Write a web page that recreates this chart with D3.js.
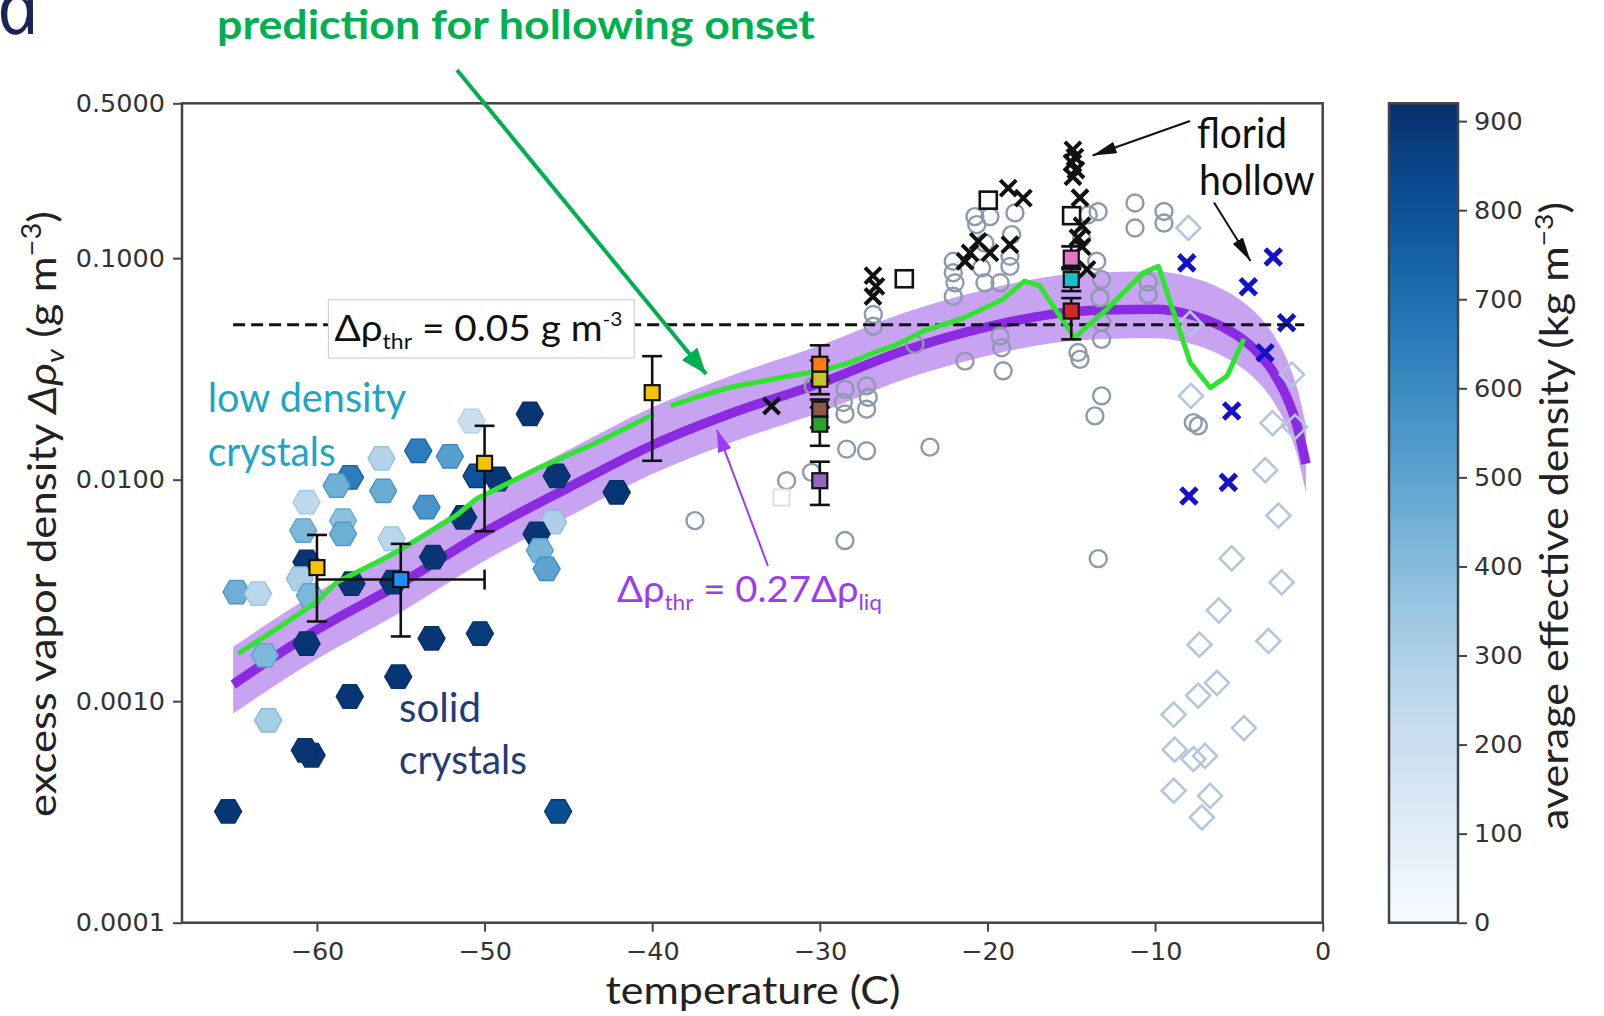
<!DOCTYPE html>
<html>
<head>
<meta charset="utf-8">
<script src="https://cdn.jsdelivr.net/npm/d3@7"></script>
<style>
  html, body { margin: 0; padding: 0; background: #fff; }
  svg { display: block; }
</style>
</head>
<body>
<svg id="chart" width="1604" height="1016"></svg>
<script>
// ---------- tick values ----------
const tempTicks = [-60, -50, -40, -30, -20, -10, 0];
const vaporTicks = [0.0001, 0.001, 0.01, 0.1, 0.5];
const densityTicks = [0, 100, 200, 300, 400, 500, 600, 700, 800, 900];

// ---------- threshold model: 0.27 x excess over liquid, with 0.2-0.4 band ----------
const bandTemp = [-65, -60, -55, -50, -45, -40, -35, -30, -25, -20, -15, -12.5, -10, -8, -6, -5, -4, -3, -2, -1.5, -1];
const bandMid  = [0.00119, 0.0021, 0.0034, 0.0058, 0.0092, 0.0143, 0.0203, 0.0272, 0.0382, 0.0490, 0.0572, 0.0585, 0.0588, 0.0558, 0.0490, 0.0442, 0.0383, 0.0310, 0.0222, 0.0172, 0.0118];
const bandHigh = [0.00176, 0.0031, 0.0050, 0.0086, 0.0136, 0.0212, 0.0300, 0.0403, 0.0565, 0.0725, 0.0847, 0.0866, 0.0870, 0.0826, 0.0725, 0.0654, 0.0567, 0.0459, 0.0329, 0.0255, 0.0175];
const bandLow  = [0.00088, 0.00155, 0.00252, 0.0043, 0.0068, 0.0106, 0.0150, 0.0201, 0.0283, 0.0363, 0.0423, 0.0433, 0.0435, 0.0413, 0.0363, 0.0327, 0.0283, 0.0229, 0.0164, 0.0127, 0.0087];

// ---------- hollowing-onset prediction (two pieces) ----------
const onsetTempA = [-64.7, -63.0, -61.2, -60.0, -58.8, -57.6, -56.0, -54.9, -53.3, -51.7, -50.5, -48.9, -46.9, -44.9, -43.7, -41.7, -39.9];
const onsetDvA   = [0.00164, 0.00198, 0.00244, 0.00281, 0.00345, 0.00383, 0.00440, 0.00488, 0.00579, 0.00688, 0.00818, 0.00939, 0.01117, 0.01303, 0.01422, 0.0169, 0.01976];
const onsetTempB = [-38.9, -37.4, -35.4, -33.4, -31.8, -30.0, -28.2, -26.8, -25.4, -23.8, -21.4, -19.1, -17.8, -16.9, -14.8, -12.9, -10.7, -9.8, -7.9, -6.7, -5.7, -4.7];
const onsetDvB   = [0.02153, 0.02349, 0.02606, 0.0279, 0.02937, 0.03097, 0.03375, 0.0374, 0.0408, 0.0469, 0.0538, 0.065, 0.0787, 0.0752, 0.0438, 0.0586, 0.0859, 0.0918, 0.0337, 0.026, 0.0294, 0.0433];

// constant threshold
const thrTemp = [-65, -1.1];
const thrValue = 0.05;

// ---------- columnar crystals, coloured by effective density ----------
const hexTemp = [-47.3, -50.78, -53.96, -56.15, -52.07, -58.03, -58.83, -56.05, -50.48, -49.19,
                 -45.7, -60.62, -53.46, -58.44, -51.28, -60.82, -58.44, -55.55, -45.91, -46.9,
                 -46.7, -46.3, -53.07, -60.62, -61.02, -60.42, -57.94, -55.45, -64.8, -63.51,
                 -60.62, -63.11, -53.16, -50.28, -55.15, -58.04, -62.91, -60.32, -60.72, -65.3,
                 -45.61, -42.12];
const hexDv   = [0.0198, 0.0184, 0.0135, 0.01247, 0.01274, 0.01025, 0.0094, 0.0089, 0.0104, 0.01007,
                 0.0104, 0.00791, 0.00751, 0.00653, 0.00676, 0.00589, 0.00569, 0.00541, 0.00643, 0.00569,
                 0.00479, 0.00396, 0.00447, 0.00425, 0.00357, 0.0030, 0.00339, 0.00345, 0.00311, 0.00306,
                 0.00182, 0.00161, 0.00192, 0.00202, 0.00129, 0.00105, 0.00082, 0.00057, 0.0006, 0.000318,
                 0.000318, 0.00877];
const hexDensity = [900, 200, 650, 280, 520, 650, 450, 470, 800, 900,
                    900, 250, 560, 380, 900, 420, 460, 260, 300, 900,
                    430, 500, 900, 900, 300, 420, 900, 900, 460, 260,
                    900, 420, 900, 880, 900, 900, 320, 900, 900, 900,
                    820, 900];

// ---------- open circles ----------
const circleTemp = [-37.45, -28.5, -31.98, -30.49, -28.5, -28.6, -28.5, -27.21, -27.11, -27.21,
                    -28.4, -27.21, -26.81, -26.81, -30.39, -24.33, -23.43, -22.04, -22.04, -21.94,
                    -22.04, -20.75, -20.64, -19.85, -18.36, -18.56, -20.15, -20.35, -20.15, -19.25,
                    -18.66, -18.66, -21.34, -19.25, -19.15, -19.06, -14.48, -13.59, -13.19, -13.19,
                    -13.29, -13.19, -13.48, -13.99, -11.2, -11.2, -9.47, -9.47, -10.41, -10.41,
                    -7.72, -7.42, -13.39, -14.38, -13.4, -13.19, -14.6];
const circleDv   = [0.00653, 0.00531, 0.00989, 0.01079, 0.0256, 0.0223, 0.0198, 0.0265, 0.0235, 0.0208,
                    0.01374, 0.0135, 0.0557, 0.0493, 0.0265, 0.0408, 0.01402, 0.0968, 0.0859, 0.0774,
                    0.0673, 0.154, 0.1416, 0.154, 0.160, 0.1277, 0.117, 0.0904, 0.0774, 0.0774,
                    0.0918, 0.102, 0.0343, 0.0445, 0.0394, 0.031, 0.0349, 0.0194, 0.0239, 0.043,
                    0.0662, 0.080, 0.0968, 0.157, 0.1774, 0.1368, 0.1625, 0.144, 0.078, 0.0685,
                    0.0181, 0.0175, 0.0044, 0.1233, 0.162, 0.0513, 0.0375];

// ---------- open diamonds ----------
const diamondTemp = [-8.01, -7.92, -7.86, -1.83, -2.99, -1.65, -3.43, -2.64, -5.43, -2.45,
                     -6.2, -3.24, -7.35, -6.31, -7.43, -8.89, -4.7, -8.83, -7.71, -7.02,
                     -8.89, -6.72, -7.21];
const diamondDv   = [0.137, 0.0507, 0.0239, 0.0298, 0.018, 0.0173, 0.01104, 0.00689, 0.00441, 0.00344,
                     0.00257, 0.00187, 0.0018, 0.00121, 0.00106, 0.00087, 0.000756, 0.000604, 0.000548, 0.000566,
                     0.000394, 0.000374, 0.000299];

// ---------- black crosses ----------
const crossTemp = [-26.83, -26.65, -26.83, -18.76, -17.86, -21.04, -20.55, -19.85, -21.34, -18.66,
                   -14.9, -14.78, -14.96, -14.72, -14.9, -14.48, -14.36, -14.6, -14.36, -14.06, -32.88];
const crossDv   = [0.0834, 0.0745, 0.0671, 0.207, 0.1867, 0.1057, 0.119, 0.1057, 0.0968, 0.115,
                   0.308, 0.286, 0.269, 0.25, 0.233, 0.1873, 0.14, 0.1236, 0.1127, 0.0889, 0.0215];

// ---------- blue crosses ----------
const blueCrossTemp = [-8.11, -2.95, -4.44, -2.15, -3.44, -5.43, -5.63, -7.98];
const blueCrossDv   = [0.0952, 0.1013, 0.0743, 0.0511, 0.0374, 0.0204, 0.00972, 0.00843];

// ---------- open squares ----------
const openSqTemp = [-24.96, -19.95, -14.98];
const openSqDv   = [0.0807, 0.1827, 0.1555];
const faintSqTemp = [-32.28];
const faintSqDv   = [0.0083];

// ---------- squares with error bars ----------
const errTemp = [-60, -55, -50, -40, -30, -30, -30, -30, -30, -15, -15, -15];
const errDv   = [0.00401, 0.00354, 0.01185, 0.0247, 0.0332, 0.0284, 0.0208, 0.0178, 0.00989, 0.100, 0.080, 0.0577];
const errLow  = [0.00229, 0.00196, 0.00585, 0.01217, 0.0280, 0.0243, 0.0172, 0.01422, 0.00769, 0.089, 0.071, 0.043];
const errHigh = [0.00563, 0.00513, 0.0175, 0.0361, 0.0404, 0.0345, 0.0230, 0.0212, 0.01205, 0.113, 0.091, 0.066];
const errTempLow  = [null, -60, null, null, null, null, null, null, null, null, null, null];
const errTempHigh = [null, -50, null, null, null, null, null, null, null, null, null, null];
const errFill = ["#f5c400", "#1e90ff", "#f5c400", "#f5c400", "#ff7f0e", "#c9c22a", "#8c564b", "#2ca02c", "#9467bd", "#e377c2", "#17becf", "#d62728"];

// =====================================================================
(function draw() {
const svg = d3.select("#chart");
svg.append("rect").attr("width", 1604).attr("height", 1016).attr("fill", "#fff");

const pLeft = 182, pRight = 1322.7, pTop = 103.3, pBottom = 922.7;
const x = d3.scaleLinear().domain([-68.05, 0]).range([pLeft, pRight]);
const y = d3.scaleLog().domain([0.0001, 0.5]).range([pBottom, pTop]);
const densityMax = 920;
const cbScale = d3.scaleLinear().domain([0, densityMax]).range([pBottom, pTop]);
const blues = d => d3.interpolateBlues(d / densityMax);

const defs = svg.append("defs");
defs.append("clipPath").attr("id", "plotClip")
  .append("rect").attr("x", pLeft).attr("y", pTop).attr("width", pRight - pLeft).attr("height", pBottom - pTop);

function arrowMarker(id, color, len, wid) {
  defs.append("marker").attr("id", id)
    .attr("markerUnits", "userSpaceOnUse")
    .attr("viewBox", `0 ${-wid / 2} ${len} ${wid}`)
    .attr("refX", len).attr("refY", 0)
    .attr("markerWidth", len).attr("markerHeight", wid)
    .attr("orient", "auto")
    .append("path").attr("d", `M0,${-wid / 2}L${len},0L0,${wid / 2}Z`).attr("fill", color);
}
arrowMarker("headGreen", "#00b050", 26, 20);
arrowMarker("headPurple", "#9a3cf0", 22, 14);
arrowMarker("headBlack", "#111", 24, 12);

const plot = svg.append("g").attr("clip-path", "url(#plotClip)");

// model band and its centre line
const bandIdx = d3.range(bandTemp.length);
plot.append("path").datum(bandIdx)
  .attr("d", d3.area().curve(d3.curveMonotoneX)
    .x(i => x(bandTemp[i])).y0(i => y(bandLow[i])).y1(i => y(bandHigh[i])))
  .attr("fill", "#9148e6").attr("fill-opacity", 0.5);
plot.append("path").datum(bandIdx)
  .attr("d", d3.line().curve(d3.curveMonotoneX).x(i => x(bandTemp[i])).y(i => y(bandMid[i])))
  .attr("fill", "none").attr("stroke", "#8a2be2").attr("stroke-width", 9.5);

// hexagons
const hexR = 13.5;
const hexPath = (() => {
  const p = d3.path();
  for (let k = 0; k < 6; k++) {
    const a = k * Math.PI / 3;
    if (k === 0) p.moveTo(hexR * Math.cos(a), hexR * Math.sin(a));
    else p.lineTo(hexR * Math.cos(a), hexR * Math.sin(a));
  }
  p.closePath();
  return p.toString();
})();
plot.append("g").selectAll("path").data(d3.range(hexTemp.length)).join("path")
  .attr("d", hexPath)
  .attr("transform", i => `translate(${x(hexTemp[i])},${y(hexDv[i])})`)
  .attr("fill", i => blues(hexDensity[i]))
  .attr("stroke", i => blues(Math.min(densityMax, hexDensity[i] + 90)))
  .attr("stroke-width", 1.4);

// open circles
plot.append("g").selectAll("circle").data(d3.range(circleTemp.length)).join("circle")
  .attr("cx", i => x(circleTemp[i])).attr("cy", i => y(circleDv[i])).attr("r", 8.5)
  .attr("fill", "none").attr("stroke", "#8c9aab").attr("stroke-width", 2.4);

// open diamonds
const dd = 12;
plot.append("g").selectAll("path").data(d3.range(diamondTemp.length)).join("path")
  .attr("d", `M0,${-dd}L${dd},0L0,${dd}L${-dd},0Z`)
  .attr("transform", i => `translate(${x(diamondTemp[i])},${y(diamondDv[i])})`)
  .attr("fill", "none").attr("stroke", "#b4c6dc").attr("stroke-width", 2.6);

// faint and black open squares
plot.append("g").selectAll("rect").data(d3.range(faintSqTemp.length)).join("rect")
  .attr("x", i => x(faintSqTemp[i]) - 8).attr("y", i => y(faintSqDv[i]) - 8)
  .attr("width", 16).attr("height", 16)
  .attr("fill", "#fff").attr("stroke", "#dedede").attr("stroke-width", 2);
plot.append("g").selectAll("rect").data(d3.range(openSqTemp.length)).join("rect")
  .attr("x", i => x(openSqTemp[i]) - 8.5).attr("y", i => y(openSqDv[i]) - 8.5)
  .attr("width", 17).attr("height", 17)
  .attr("fill", "#fff").attr("stroke", "#111").attr("stroke-width", 2.6);

// crosses
const crossPath = s => `M${-s},${-s}L${s},${s}M${-s},${s}L${s},${-s}`;
plot.append("g").selectAll("path").data(d3.range(crossTemp.length)).join("path")
  .attr("d", crossPath(8))
  .attr("transform", i => `translate(${x(crossTemp[i])},${y(crossDv[i])})`)
  .attr("stroke", "#111").attr("stroke-width", 4).attr("fill", "none");
plot.append("g").selectAll("path").data(d3.range(blueCrossTemp.length)).join("path")
  .attr("d", crossPath(8))
  .attr("transform", i => `translate(${x(blueCrossTemp[i])},${y(blueCrossDv[i])})`)
  .attr("stroke", "#1212c8").attr("stroke-width", 5).attr("fill", "none");

// constant threshold line
plot.append("line")
  .attr("x1", x(thrTemp[0])).attr("x2", x(thrTemp[1]))
  .attr("y1", y(thrValue)).attr("y2", y(thrValue))
  .attr("stroke", "#111").attr("stroke-width", 3).attr("stroke-dasharray", "12,6");

// onset prediction
const onsetLine = d3.line().x(d => x(d[0])).y(d => y(d[1]));
plot.append("path").datum(d3.zip(onsetTempA, onsetDvA)).attr("d", onsetLine)
  .attr("fill", "none").attr("stroke", "#2ee52e").attr("stroke-width", 5).attr("stroke-linejoin", "round");
plot.append("path").datum(d3.zip(onsetTempB, onsetDvB)).attr("d", onsetLine)
  .attr("fill", "none").attr("stroke", "#2ee52e").attr("stroke-width", 5).attr("stroke-linejoin", "round");

// error bars with filled squares
const eb = plot.append("g");
const capW = 10;
d3.range(errTemp.length).forEach(i => {
  const cx = x(errTemp[i]);
  const g = eb.append("g");
  g.append("line").attr("x1", cx).attr("x2", cx).attr("y1", y(errLow[i])).attr("y2", y(errHigh[i]))
    .attr("stroke", "#111").attr("stroke-width", 2.6);
  [errLow[i], errHigh[i]].forEach(v => {
    g.append("line").attr("x1", cx - capW).attr("x2", cx + capW).attr("y1", y(v)).attr("y2", y(v))
      .attr("stroke", "#111").attr("stroke-width", 2.6);
  });
  if (errTempLow[i] !== null) {
    const cy = y(errDv[i]);
    g.append("line").attr("x1", x(errTempLow[i])).attr("x2", x(errTempHigh[i])).attr("y1", cy).attr("y2", cy)
      .attr("stroke", "#111").attr("stroke-width", 2.6);
    [errTempLow[i], errTempHigh[i]].forEach(t => {
      g.append("line").attr("x1", x(t)).attr("x2", x(t)).attr("y1", cy - capW).attr("y2", cy + capW)
        .attr("stroke", "#111").attr("stroke-width", 2.6);
    });
  }
});
eb.selectAll("rect").data(d3.range(errTemp.length)).join("rect")
  .attr("x", i => x(errTemp[i]) - 7.5).attr("y", i => y(errDv[i]) - 7.5)
  .attr("width", 15).attr("height", 15)
  .attr("fill", i => errFill[i]).attr("stroke", "#111").attr("stroke-width", 2.2);

// ---------- axes ----------
const axisColor = "#444";
const tickFont = "'DejaVu Sans', sans-serif";
const yAxis = svg.append("g").attr("transform", `translate(${pLeft},0)`)
  .call(d3.axisLeft(y).tickValues(vaporTicks).tickFormat(d3.format(".4f")).tickSize(9).tickPadding(8));
const xAxis = svg.append("g").attr("transform", `translate(0,${pBottom})`)
  .call(d3.axisBottom(x).tickValues(tempTicks).tickFormat(d3.format("d")).tickSize(9).tickPadding(10));
[xAxis, yAxis].forEach(a => {
  a.select(".domain").remove();
  a.selectAll(".tick line").attr("stroke", axisColor).attr("stroke-width", 2);
  a.selectAll(".tick text").attr("fill", "#333").attr("font-family", tickFont).attr("font-size", 25.5);
});
svg.append("rect").attr("x", pLeft).attr("y", pTop).attr("width", pRight - pLeft).attr("height", pBottom - pTop)
  .attr("fill", "none").attr("stroke", axisColor).attr("stroke-width", 2.5);

// ---------- colour bar ----------
const cbX = 1389, cbW = 69;
const grad = defs.append("linearGradient").attr("id", "densityGrad")
  .attr("x1", 0).attr("y1", 1).attr("x2", 0).attr("y2", 0);
d3.range(0, 1.0001, 0.05).forEach(t => {
  grad.append("stop").attr("offset", t).attr("stop-color", d3.interpolateBlues(t));
});
svg.append("rect").attr("x", cbX).attr("y", pTop).attr("width", cbW).attr("height", pBottom - pTop)
  .attr("fill", "url(#densityGrad)").attr("stroke", axisColor).attr("stroke-width", 2.5);
const cbAxis = svg.append("g").attr("transform", `translate(${cbX + cbW},0)`)
  .call(d3.axisRight(cbScale).tickValues(densityTicks).tickFormat(d3.format("d")).tickSize(9).tickPadding(7));
cbAxis.select(".domain").remove();
cbAxis.selectAll(".tick line").attr("stroke", axisColor).attr("stroke-width", 2);
cbAxis.selectAll(".tick text").attr("fill", "#333").attr("font-family", tickFont).attr("font-size", 25.5);

// ---------- axis titles ----------
const labelFont = "Lato, 'Open Sans', sans-serif";
const yTitle = svg.append("text")
  .attr("transform", "translate(56,514) rotate(-90)")
  .attr("text-anchor", "middle").attr("font-family", labelFont).attr("font-size", 39).attr("fill", "#222")
  .attr("textLength", 606).attr("lengthAdjust", "spacingAndGlyphs");
yTitle.append("tspan").text("excess vapor density ");
yTitle.append("tspan").attr("font-style", "italic").text("Δρ");
yTitle.append("tspan").attr("font-style", "italic").attr("font-size", 26).attr("dy", 8).text("v");
yTitle.append("tspan").attr("dy", -8).text(" (g m");
yTitle.append("tspan").attr("font-size", 26).attr("dy", -15).text("−3");
yTitle.append("tspan").attr("dy", 15).text(")");

svg.append("text").attr("x", 753).attr("y", 1004)
  .attr("text-anchor", "middle").attr("font-family", labelFont).attr("font-size", 38).attr("fill", "#222")
  .attr("textLength", 295).attr("lengthAdjust", "spacingAndGlyphs")
  .text("temperature (C)");

const cbTitle = svg.append("text")
  .attr("transform", "translate(1568,516) rotate(-90)")
  .attr("text-anchor", "middle").attr("font-family", labelFont).attr("font-size", 38).attr("fill", "#222")
  .attr("textLength", 628).attr("lengthAdjust", "spacingAndGlyphs");
cbTitle.append("tspan").text("average effective density (kg m");
cbTitle.append("tspan").attr("font-size", 25).attr("dy", -15).text("−3");
cbTitle.append("tspan").attr("dy", 15).text(")");

// ---------- annotations ----------
// panel letter, set large in the top-left corner
svg.append("text").attr("transform", "translate(1,34) skewX(12)")
  .attr("font-family", "'Open Sans', sans-serif").attr("font-style", "italic")
  .attr("font-size", 74).attr("fill", "#1c2454").text("a");

svg.append("text").attr("x", 217).attr("y", 39)
  .attr("font-family", labelFont).attr("font-weight", 700).attr("font-size", 41).attr("fill", "#00b050")
  .attr("textLength", 598).attr("lengthAdjust", "spacingAndGlyphs")
  .text("prediction for hollowing onset");

svg.append("line").attr("x1", 457).attr("y1", 70).attr("x2", 706).attr("y2", 374)
  .attr("stroke", "#00b050").attr("stroke-width", 4).attr("marker-end", "url(#headGreen)");

// threshold label box
svg.append("rect").attr("x", 328.4).attr("y", 299.7).attr("width", 306).attr("height", 58.3)
  .attr("fill", "#fff").attr("stroke", "#d0d0d0").attr("stroke-width", 1.2);
const thrLabel = svg.append("text").attr("x", 334.5).attr("y", 340.6)
  .attr("font-family", labelFont).attr("font-size", 37).attr("fill", "#111")
  .attr("textLength", 288).attr("lengthAdjust", "spacingAndGlyphs");
thrLabel.append("tspan").text("Δρ");
thrLabel.append("tspan").attr("font-size", 22).attr("dy", 8).text("thr");
thrLabel.append("tspan").attr("dy", -8).text(" = 0.05 g m");
thrLabel.append("tspan").attr("font-size", 20).attr("dy", -15).text("-3");

svg.append("text").attr("x", 207.7).attr("y", 412.3)
  .attr("font-family", labelFont).attr("font-size", 40).attr("fill", "#1ea5c6")
  .attr("textLength", 198.5).attr("lengthAdjust", "spacingAndGlyphs").text("low density");
svg.append("text").attr("x", 207.7).attr("y", 465.5)
  .attr("font-family", labelFont).attr("font-size", 40).attr("fill", "#1ea5c6")
  .attr("textLength", 128).attr("lengthAdjust", "spacingAndGlyphs").text("crystals");

svg.append("text").attr("x", 399).attr("y", 722)
  .attr("font-family", labelFont).attr("font-size", 40).attr("fill", "#1f3b7a")
  .attr("textLength", 82).attr("lengthAdjust", "spacingAndGlyphs").text("solid");
svg.append("text").attr("x", 399).attr("y", 774.4)
  .attr("font-family", labelFont).attr("font-size", 40).attr("fill", "#1f3b7a")
  .attr("textLength", 128).attr("lengthAdjust", "spacingAndGlyphs").text("crystals");

const modelLabel = svg.append("text").attr("x", 617).attr("y", 601.5)
  .attr("font-family", labelFont).attr("font-size", 37).attr("fill", "#9a3cf0")
  .attr("textLength", 265).attr("lengthAdjust", "spacingAndGlyphs");
modelLabel.append("tspan").text("Δρ");
modelLabel.append("tspan").attr("font-size", 22).attr("dy", 8).text("thr");
modelLabel.append("tspan").attr("dy", -8).text(" = 0.27Δρ");
modelLabel.append("tspan").attr("font-size", 22).attr("dy", 8).text("liq");

svg.append("line").attr("x1", 768).attr("y1", 566).attr("x2", 717).attr("y2", 430)
  .attr("stroke", "#9a3cf0").attr("stroke-width", 2).attr("marker-end", "url(#headPurple)");

svg.append("text").attr("x", 1197).attr("y", 148)
  .attr("font-family", labelFont).attr("font-size", 42).attr("fill", "#111")
  .attr("textLength", 90).attr("lengthAdjust", "spacingAndGlyphs").text("florid");
svg.append("text").attr("x", 1199).attr("y", 195.4)
  .attr("font-family", labelFont).attr("font-size", 42).attr("fill", "#111")
  .attr("textLength", 115.6).attr("lengthAdjust", "spacingAndGlyphs").text("hollow");

svg.append("line").attr("x1", 1190).attr("y1", 121).attr("x2", 1092.6).attr("y2", 155.5)
  .attr("stroke", "#111").attr("stroke-width", 2).attr("marker-end", "url(#headBlack)");
svg.append("line").attr("x1", 1214).attr("y1", 202.5).attr("x2", 1250.5).attr("y2", 261)
  .attr("stroke", "#111").attr("stroke-width", 2).attr("marker-end", "url(#headBlack)");
})();
</script>
</body>
</html>
